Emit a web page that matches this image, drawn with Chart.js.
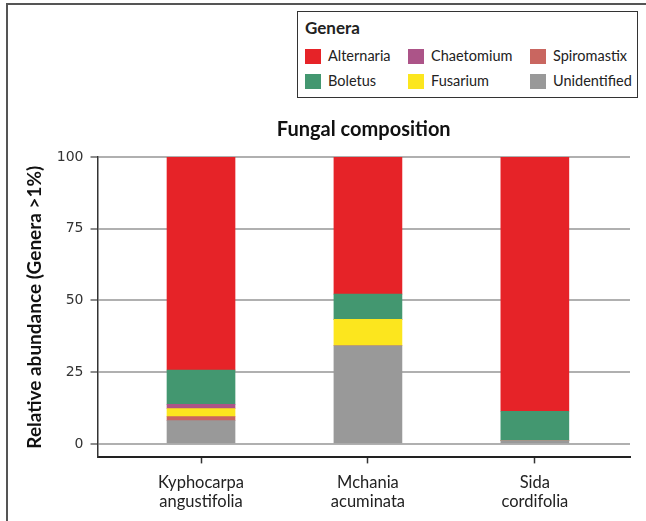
<!DOCTYPE html>
<html>
<head>
<meta charset="utf-8">
<script src="https://cdn.jsdelivr.net/npm/chart.js@4"></script>
<style>
  html, body { margin: 0; padding: 0; background: #fff; }
  #wrap { position: relative; width: 646px; height: 521px; overflow: hidden; }
  #frame { position: absolute; left: 6px; top: 3px; width: 700px; height: 600px;
           border-left: 2px solid #555; border-top: 2px solid #555; }
  #chart { position: absolute; left: 0; top: 0; }
  #legend { position: absolute; left: 297px; top: 11px; width: 341px; height: 87px;
            border: 1.5px solid #333; box-sizing: border-box; background: #fff;
            font-family: Lato, "Open Sans", sans-serif; color: #222; }
  #legend .ttl { position: absolute; left: 7px; top: 5px; font-weight: bold; font-size: 17px; }
  #legend .item { position: absolute; font-size: 14.5px; line-height: 16px; white-space: nowrap; }
  #legend .sw { position: absolute; left: 0; top: 0; width: 16px; height: 15px; }
  #legend .lbl { position: absolute; left: 23px; top: -1px; }
</style>
</head>
<body>
<div id="wrap">
  <div id="frame"></div>
  <canvas id="chart" width="646" height="521"></canvas>
  <div id="legend"><div class="ttl">Genera</div></div>
</div>
<script>
const categories = [["Kyphocarpa", "angustifolia"], ["Mchania", "acuminata"], ["Sida", "cordifolia"]]
const positions = [0, 1, 2]

// stacked bottom to top
const unidentified = [8.1, 34.2, 1.2]
const spiromastix = [1.4, 0, 0]
const fusarium = [2.8, 9.2, 0]
const chaetomium = [1.5, 0, 0]
const boletus = [11.9, 8.8, 10.2]
const alternaria = [74.3, 47.8, 88.6]

const yTicks = [0, 25, 50, 75, 100]

const colors = {
    Alternaria: '#e62328',
    Boletus: '#439770',
    Chaetomium: '#ac5488',
    Fusarium: '#fce61e',
    Spiromastix: '#c96660',
    Unidentified: '#999999'
}

// legend reads column by column: Alternaria/Boletus, Chaetomium/Fusarium, Spiromastix/Unidentified
const legendOrder = ["Alternaria", "Chaetomium", "Spiromastix", "Boletus", "Fusarium", "Unidentified"]

const series = [
    { label: 'Unidentified', data: unidentified },
    { label: 'Spiromastix', data: spiromastix },
    { label: 'Fusarium', data: fusarium },
    { label: 'Chaetomium', data: chaetomium },
    { label: 'Boletus', data: boletus },
    { label: 'Alternaria', data: alternaria }
]

const calibriLike = 'Lato, "Open Sans", sans-serif'

// the bars sit a little right of the y axis in the original, so the x axis
// is linear over the category index with some extra room on the left
const chart = new Chart(document.getElementById("chart"), {
    type: 'bar',
    data: {
        labels: positions,
        datasets: series.map(s => ({
            label: s.label,
            data: s.data,
            backgroundColor: colors[s.label],
            borderWidth: 0,
            barThickness: 68
        }))
    },
    options: {
        responsive: false,
        animation: false,
        layout: { padding: { top: 116, left: 20, right: 16, bottom: 0 } },
        plugins: {
            legend: { display: false },
            tooltip: { enabled: false },
            title: {
                display: true,
                text: 'Fungal composition',
                fullSize: false,
                color: '#111',
                font: { family: calibriLike, size: 20, weight: 'bold' },
                padding: { top: 2, bottom: 15 }
            }
        },
        scales: {
            x: {
                type: 'linear',
                stacked: true,
                offset: false,
                min: -0.62,
                max: 2.57,
                afterBuildTicks: axis => { axis.ticks = positions.map(v => ({ value: v })) },
                grid: { display: true, offset: false, drawOnChartArea: false, tickLength: 6, tickColor: '#333', tickWidth: 1.5 },
                border: { display: true, color: '#222', width: 2 },
                ticks: {
                    color: '#222',
                    font: { family: calibriLike, size: 16.5 },
                    padding: 9,
                    maxRotation: 0,
                    autoSkip: false,
                    callback: v => categories[v]
                }
            },
            y: {
                stacked: true,
                min: -4.7,
                max: 100,
                afterBuildTicks: axis => { axis.ticks = yTicks.map(v => ({ value: v })) },
                grid: { color: '#b0b0b0', lineWidth: 2, tickLength: 7, tickColor: '#666', tickWidth: 1.5 },
                border: { display: true, color: '#333', width: 1.5 },
                ticks: { color: '#333', font: { family: '"DejaVu Sans"', size: 14 }, padding: 7 },
                title: {
                    display: true,
                    text: 'Relative abundance (Genera >1%)',
                    color: '#111',
                    font: { family: calibriLike, size: 19, weight: 'bold' },
                    padding: { top: 3, bottom: 4 }
                }
            }
        }
    }
})

// html legend in the boxed 3-column layout
const legendBox = document.getElementById("legend")
const colX = [7, 110, 232]
const rowY = [37, 62]
legendOrder.forEach((name, i) => {
    const item = document.createElement("div")
    item.className = "item"
    item.style.left = colX[i % 3] + "px"
    item.style.top = rowY[Math.floor(i / 3)] + "px"
    item.innerHTML = `<span class="sw" style="background:${colors[name]}"></span><span class="lbl">${name}</span>`
    legendBox.appendChild(item)
})
</script>
</body>
</html>
